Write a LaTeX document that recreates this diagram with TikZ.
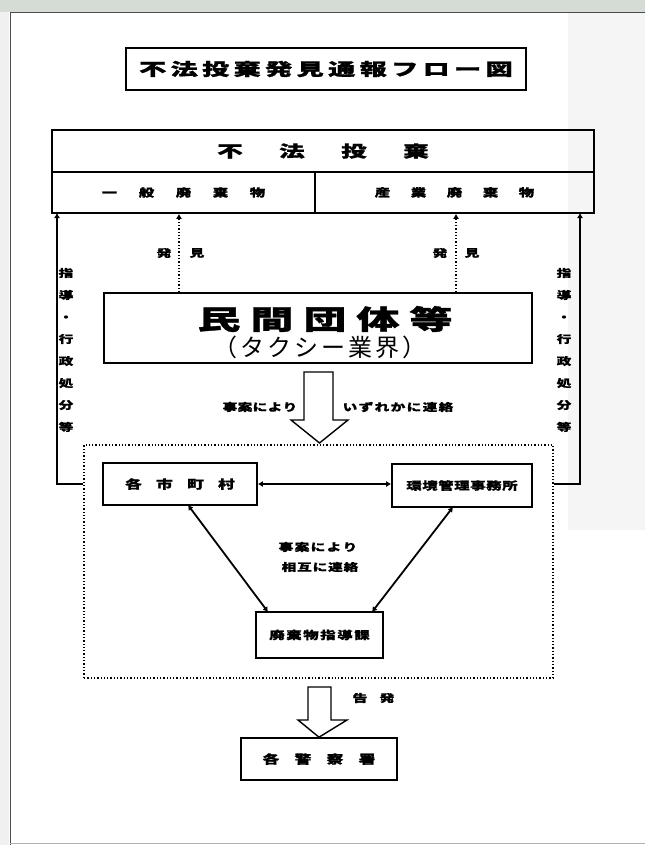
\documentclass[tikz,border=0pt]{standalone}
\usepackage{fontspec}
\usetikzlibrary{arrows.meta,calc}
\newfontfamily\jp{Noto Sans CJK JP}
\newfontfamily\jpw[FakeStretch=1.6, FakeBold=1.2]{Noto Sans CJK JP}
\newfontfamily\jpm[FakeStretch=1.4, FakeBold=0.8]{Noto Sans CJK JP}
\ExplSyntaxOn
\NewDocumentCommand\spread{mm}{\tl_map_inline:nn{#2}{\makebox[#1]{##1}}}
\ExplSyntaxOff
\begin{document}
\begin{tikzpicture}[x=1pt,y=-1pt,
  box/.style={draw, line width=1.6pt, inner sep=0pt},
  lab/.style={font=\jpm\bfseries\fontsize{10.5}{12}\selectfont, inner sep=0pt},
  conn/.style={line width=1.8pt},
  dotc/.style={line width=1.3pt, dotted},
  tipe/.style={-{Latex[length=5pt,width=6pt]}},
  tipb/.style={{Latex[length=5pt,width=6pt]}-{Latex[length=5pt,width=6pt]}},
  hollow/.style={draw, line width=1.4pt, fill=white, line join=miter}]
\useasboundingbox (0,0) rectangle (645,845);
% page / scan background
\fill[white] (0,0) rectangle (645,845);
\fill[gray!8] (568,13) rectangle (645,530);
\fill[gray!12] (0,0) rectangle (9,845);
\fill[black!10!green!10!gray!30] (0,0) rectangle (645,12);
\draw[black!70, line width=1pt] (10,845) -- (10,12.5) -- (645,12.5);
\draw[gray!60, line width=1pt] (10,843) -- (645,843);

% title
\node[box, minimum width=400pt, minimum height=42pt] (title) at (326,69)
  {\jpw\bfseries\fontsize{17}{20}\selectfont\spread{31.5pt}{不法投棄発見通報フロー図}};

% top table
\node[box, minimum width=542pt, minimum height=42pt] (main) at (323,151)
  {\jpw\bfseries\fontsize{16}{18}\selectfont\spread{62pt}{不法投棄}};
\node[box, minimum width=263pt, minimum height=41pt] (gen) at (183.5,192.5)
  {\jpm\bfseries\fontsize{11}{13}\selectfont\spread{37pt}{一般廃棄物}};
\node[box, minimum width=279pt, minimum height=41pt] (ind) at (454.5,192.5)
  {\jpm\bfseries\fontsize{11}{13}\selectfont\spread{36pt}{産業廃棄物}};

% private groups
\node[box, minimum width=428pt, minimum height=70pt] (min) at (318,328) {};
\node[inner sep=0pt] (minA) at (325,319)
  {\jpw\bfseries\fontsize{27}{30}\selectfont\spread{53pt}{民間団体等}};
\node[inner sep=0pt] (minB) at (320,347)
  {\jp\fontsize{24}{28}\selectfont\spread{27pt}{（タクシー業界）}};

% dotted discovery lines
\coordinate (d1) at (179,0);
\coordinate (d2) at (456,0);
\draw[dotc, tipe] (min.north -| d1) -- (gen.south -| d1);
\draw[dotc, tipe] (min.north -| d2) -- (ind.south -| d2);
\node[lab] (h1a) at (164,253) {発};
\node[lab] (h1b) at (197,253) {見};
\node[lab] (h2a) at (440,253) {発};
\node[lab] (h2b) at (472,253) {見};

% dotted group box
\node[draw, line width=1.3pt, dotted, minimum width=469pt, minimum height=233pt] (dbox) at (318.5,561.5) {};

% big hollow arrow
\draw[hollow] (304,372) -- (333,372) -- (333,420) -- (348,420) -- (319.5,443)
  -- (291,420) -- (304,420) -- cycle;
\node[lab] (jian1) at (260,407) {\spread{15pt}{事案により}};
\node[lab] (izure) at (398,407) {\spread{16pt}{いずれかに連絡}};

% inner boxes
\node[box, minimum width=154pt, minimum height=42pt] (city) at (180,484)
  {\jpm\bfseries\fontsize{12}{14}\selectfont\spread{31pt}{各市町村}};
\node[box, minimum width=140pt, minimum height=43pt] (env) at (462,485.5)
  {\jpm\bfseries\fontsize{11}{13}\selectfont\spread{16pt}{環境管理事務所}};
\node[box, minimum width=127pt, minimum height=46pt] (haiki) at (319.5,635)
  {\jpm\bfseries\fontsize{11}{13}\selectfont\spread{17pt}{廃棄物指導課}};

\draw[conn, line width=1.4pt, tipb] (city.east) -- (env.west |- city.east);
\coordinate (c1) at (188,505);
\coordinate (c2) at (268,612);
\coordinate (e1) at (453,507);
\coordinate (e2) at (372,612);
\draw[conn, tipb] (c1) -- (c2);
\draw[conn, tipb] (e1) -- (e2);
\node[lab] (jian2) at (318,547) {\spread{16pt}{事案により}};
\node[lab] (sougo) at (320,567) {\spread{15.5pt}{相互に連絡}};

% guidance lines
\coordinate (gl) at (57,213);
\coordinate (gr) at (580,213);
\draw[conn, tipe] (dbox.west |- city.center) -| (gl);
\draw[conn, tipe] (dbox.east |- city.center) -| (gr);
\node[lab, align=center, font=\jpm\bfseries\fontsize{10.5}{22}\selectfont] (gv1) at (66,350)
  {指\\導\\・\\行\\政\\処\\分\\等};
\node[lab, align=center, font=\jpm\bfseries\fontsize{10.5}{22}\selectfont] (gv2) at (564,350)
  {指\\導\\・\\行\\政\\処\\分\\等};

% bottom arrow and police
\node[box, minimum width=156pt, minimum height=42pt] (police) at (319,759)
  {\jpm\bfseries\fontsize{12}{14}\selectfont\spread{32pt}{各警察署}};
\draw[hollow] (308,687) -- (331,687) -- (331,720) -- (347,720) -- (police.north)
  -- (298,720) -- (308,720) -- cycle;
\node[lab] (k1) at (360,698) {告};
\node[lab] (k2) at (387,698) {発};
\end{tikzpicture}
\end{document}
